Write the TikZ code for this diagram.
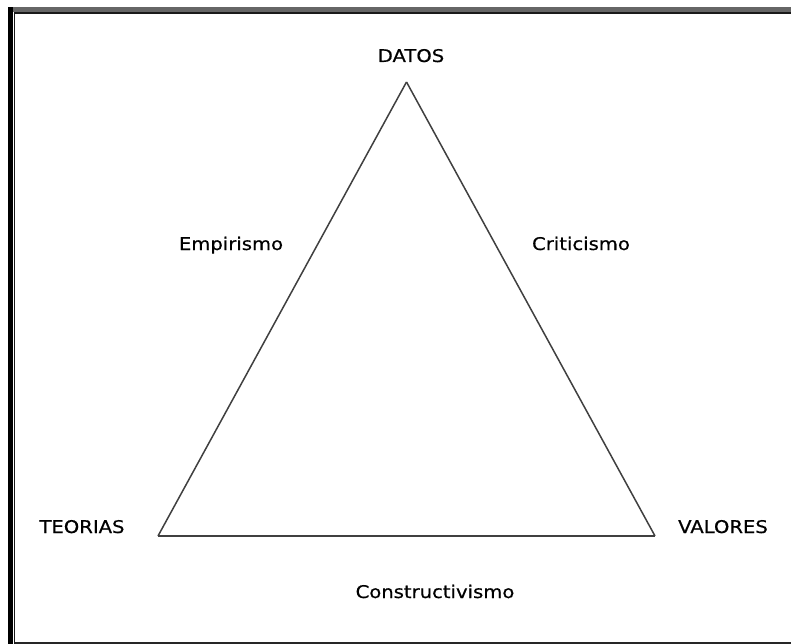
\documentclass[tikz,border=0pt]{standalone}
\usepackage{fontspec}
\setmainfont[FakeStretch=1.12,FakeBold=0.6]{DejaVu Sans}
\begin{document}
\begin{tikzpicture}[x=1pt,y=-1pt,
  lbl/.style={anchor=base,inner sep=0pt,font=\fontsize{17.5}{19}\selectfont,text=black},
  edge/.style={draw=black!75,line width=1.5pt}]
\useasboundingbox (0,0) rectangle (791,644);
\fill[white] (0,0) rectangle (791,644);
% frame
\fill[black!60] (8,7) rectangle (791,12);
\fill[black] (8,7) rectangle (12.5,644);
\draw[line width=1.2pt,black!90] (14.5,644) -- (14.5,13) -- (791,13);
\draw[line width=1.4pt,black!85] (14.5,643) -- (791,643);
% triangle
\coordinate (d) at (406.5,82);
\coordinate (t) at (158,536);
\coordinate (v) at (655,536);
\draw[edge] (d) -- (t);
\draw[edge] (t) -- (v);
\draw[edge] (v) -- (d);
% labels
\node[lbl] (datos) at (411,62) {DATOS};
\node[lbl] (teorias) at (82,533) {TEORIAS};
\node[lbl] (valores) at (723,533) {VALORES};
\node[lbl] (emp) at (231,250) {Empirismo};
\node[lbl] (crit) at (581,250) {Criticismo};
\node[lbl] (cons) at (435,598) {Constructivismo};
\end{tikzpicture}
\end{document}
